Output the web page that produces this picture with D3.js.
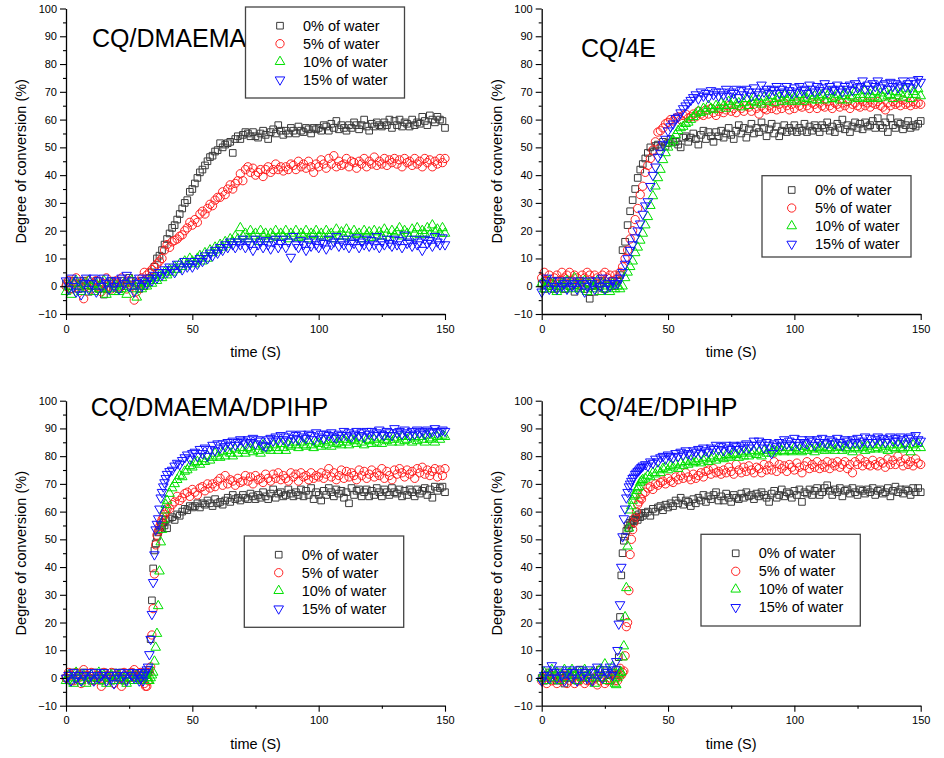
<!DOCTYPE html>
<html><head><meta charset="utf-8">
<script src="https://cdn.jsdelivr.net/npm/d3@7"></script>
<style>body{margin:0;background:#fff}svg{display:block}text{font-family:"Liberation Sans",Arial,Helvetica,sans-serif}</style>
</head><body><svg id="c" width="944" height="758"></svg>
<script>
// ---------------- DATA ----------------
const seriesLabels = ["0% of water","5% of water","10% of water","15% of water"];
const panelTitles = ["CQ/DMAEMA","CQ/4E","CQ/DMAEMA/DPIHP","CQ/4E/DPIHP"];
const xTicks = [0,50,100,150];
const xMinorTicks = [25,75,125];
const yTicks = [-10,0,10,20,30,40,50,60,70,80,90,100];
const yMinorTicks = [-5,5,15,25,35,45,55,65,75,85,95];
const xLabel = "time (S)";
const yLabel = "Degree of conversion (%)";

// sampling times (s) for the two upper panels
const time1 = [0,1,2,3,4,5,6,7,8,9,10,11,12,13,14,15,16,17,18,19,20,21,22,23,24,25,26,27,28,29,
30,31,32,33,34,35,36,37,38,39,40,41,42,43,44,45,46,47,48,49,50,51,52,53,54,55,56,57,58,59,
60,61,62,63,64,65,66,67,68,69,70,71,72,73,74,75,76,77,78,79,80,81,82,83,84,85,86,87,88,89,
90,91,92,93,94,95,96,97,98,99,100,101,102,103,104,105,106,107,108,109,110,111,112,113,114,115,116,117,118,119,
120,121,122,123,124,125,126,127,128,129,130,131,132,133,134,135,136,137,138,139,140,141,142,143,144,145,146,147,148,149,150];
// sampling times (s) for the two lower panels (denser around the fast rise)
const time2 = [0,1,2,3,4,5,6,7,8,9,10,11,12,13,14,15,16,17,18,19,20,21,22,23,24,25,26,27,28,29,
29.5,30,30.5,31,31.5,32,32.5,33,33.5,34,34.5,35,35.5,36,36.5,37,37.5,38,38.5,39,39.5,40,
41,42,43,44,45,46,47,48,49,50,51,52,53,54,55,56,57,58,59,60,61,62,63,64,65,66,67,68,69,70,
71,72,73,74,75,76,77,78,79,80,81,82,83,84,85,86,87,88,89,90,91,92,93,94,95,96,97,98,99,100,
101,102,103,104,105,106,107,108,109,110,111,112,113,114,115,116,117,118,119,120,121,122,123,124,125,126,127,128,129,130,
131,132,133,134,135,136,137,138,139,140,141,142,143,144,145,146,147,148,149,150];

// CQ/DMAEMA
const dmaema_0 = [1,0,-1,2,1,-1,0,2,1,-2, 0,1,2,-1,0,-3,-1,1,2,0, 1,-1,2,0,1,3,2,0,1,-1,
2,0,1,3,5,7,10,11,13,15, 17,19,21,22,24,26,28,30,31,34, 35,37,39,41,42,43.5,45,46.5,47,48.5,
49,51.5,50,51,51.5,52,48,53,54,53, 54.5,55.5,55,54,55.5,54,53.5,55,56,54.5, 53,55.5,56.5,55,58,56,54.5,56,55,57,
56,55,57.5,56,55.5,57,56.5,55,57,56.5, 57,56,58,57.5,56,58.5,57,59.5,56.5,58, 57,56,58,57,59,58,56.5,58,60,57.5,
56,58.5,57.5,59,58,57.5,59,58,60,57, 59.5,58,60,57.5,59,58.5,57.5,60,58,59, 58.5,61,59.5,58,61.5,60,59,61,60,59.5, 57];
const dmaema_5 = [0,2,-1,1,3,0,1,-4.5,0,2, -1,1,2,0,-2,1,3,0,-1,1, 2,0,3,1,-1,2,0,-5,-2,1,
3,5,4,5,6,7,8,9,10,13, 15,14,16,16.5,17,18,18.5,20,21,23, 22,24,23,26,27,26,28,29.5,29,31,
32,32,34,33,35,36.5,35,37,38,40.5, 38,42,43,41,42.5,40,41,42,39.5,42, 43,41,42,44,42,43,41.5,43,42,44,
43.5,42,45,43,44,42.5,45,43,41,44, 43,45.5,44,42.5,46,44,47,43,45,43.5, 44,46,43,45,44.5,42.5,45,44,46,43,
45,44,46.5,43.5,45,44,46,43.5,45.5,44.5, 46,44,45.5,43,46,44.5,45,43.5,46,44, 45,43,46,44.5,45.5,43,45,44,46,44.5, 46];
const dmaema_10 = [-2,0,-3,1,2,0,-2,1,-1,2, 0,-2,1,-1,0,2,-3,-1,1,-2, 0,-2,-1,1,-3,0,2,-1,-4,0,
-1,1,0,2,1,3,2,4,3,5, 4,6,5,7,6,8,7,9,8,10, 9,8,10,11,9,12,10,13,12,14,
13,15,14,16,15,17,16,18,17,21, 18,19,17,20,18,19,16,20,18,19, 17,19,18,20,17.5,19,18,20,17,19,
18,20,17.5,19,18,20,17,19,18.5,20, 18,19,17.5,20,18.5,19,17,20.5,18,19.5, 18,20.5,19,17.5,20,18.5,19,17,20,18.5,
19.5,17.5,20,18,19.5,18,20.5,19,17.5,20, 18.5,19.5,21,18,20,19,17.5,20.5,19,21, 18.5,20,19,21,18.5,22,19.5,20.5,19,21, 19];
const dmaema_15 = [2,-1,3,0,-2,2,-3,1,3,-1, 1,3,-2,2,0,3,1,-1,2,0, 2,-1,3,1,4,0,2,-2,1,3,
0,2,1,3,2,4,3,5,4,6, 5,7,6,5,8,7,6,9,7,8, 7,9,8,10,9,11,10,12,11,13,
12,14,13,15,14,16,15,14,16,15, 17,14,16,15,13,17,15,16,14,16.5, 15,13.5,16,17,14,15.5,17,14,16,10.5,
18,15,14,16.5,15,13,16,14.5,17,15, 14,16,15.5,13.5,17,15,16,18,14.5,16, 15,17,14,16,15.5,17.5,14,16,15,17,
14.5,16.5,15,18,14,16,15,17,15.5,14.5, 17,15,16.5,14,18.5,15.5,16,14.5,17,15, 16,13,17,15.5,16.5,14.5,18,16,15,17.5, 15];

// CQ/4E
const e4_0 = [1,-1,2,0,1,-1,2,0,1,-1, 2,0,1,-2,1,2,0,-1,1,-4.5, 0,-2,1,0,2,-1,1,0,2,0,
2,4,13,16,22,27,31,35,39,42, 44,46,48,50,48.5,50.5,51,50,52,50.5, 51.5,53,52,52,51,50,53.5,54,52,53.5,
55,53,51,54.5,56,53,55.5,54,52,55.5, 54,56,53.5,55,57,54.5,53,56,58,55, 57,53.5,56.5,58.5,55,57,55.5,59,57,54,
56.5,58.5,55,57.5,54,56,58,55.5,57,56, 58,55.5,57,56,58.5,55.5,57.5,56,58,57, 55.5,58,57,59,56,57.5,55.5,58.5,57,60,
56.5,58,55.5,57.5,59,57,58.5,56.5,59,57.5, 58,59.5,57,60.5,58,57,59,55.5,60.5,58, 57,59,58.5,56.5,58,59.5,57,58,57.5,58.5, 59.5];
const e4_5 = [3,5,2,4,1,3,4,2,5,3, 4,5,2,4,3,1,4,3,5,4, 2,4,3,1,4,5,3,4,2,4,
3,5,7,10,13,17,20,24,28,33, 36,41,43.5,46,49,52,55.5,56,57,58.5, 59,60,59.5,60.5,61,60,61.5,62,60.5,61,
62,61,63,62,61.5,63.5,62,64,62.5,61.5, 63,64,62.5,63.5,65,63,64,62.5,65,64, 63,65,64.5,63,65.5,64,62,65,64,63.5,
65,64,66,63.5,65.5,64,66,65,63.5,65.5, 64,66,65,64.5,66.5,65,64,66,65.5,64, 66,65,64.5,66.5,65,64,66,65.5,64.5,66,
65,66.5,64,65.5,66,65,64.5,66.5,65,66, 64.5,66,65.5,66.5,65,64.5,63.5,66,65,66.5, 65.5,66,65,67,65.5,66,65,66.5,65.5,66, 65.5];
const e4_10 = [1,-1,0,2,-1,1,-2,0,1,-1, 2,0,-1,3,1,-1,0,2,-2,1, -1,0,2,-2,1,-1,0,-2,1,-1,
0,-1,0,3,5,7,9,12,14,16.5, 19,22,25,29,32.5,36,39,42,45.5,48, 50,51.5,52.5,54.5,56,57,57.5,58.5,59,60,
61,62,63,62.5,64,63,65,64,63.5,65, 64.5,66,65,64,66.5,65,67,65.5,66,64.5, 66,67.5,65,66.5,68,66,67,65.5,68,66.5,
67,68.5,66,67.5,68,66.5,69,67,68,66.5, 68,67,69,66.5,68,67.5,69.5,67,68.5,67, 68,69,67,68.5,70,67.5,68,69,67,68.5,
69.5,67,68.5,68,70,67.5,69,68,70.5,67.5, 69,68,70,67.5,69.5,68,70.5,68.5,69,67.5, 70,68.5,69.5,68,71,69,67.5,70,69,71, 68.5];
const e4_15 = [-2,1,3,-1,2,0,-1,2,0,1, -1,2,0,1,-1,2,1,-2,0,2, 1,-1,2,0,3,-1,1,0,2,1,
1,3,5,8,10,13,15,17.5,20,22.5, 26,29,30.5,36,40,43,46.5,48,51,53, 56,57.5,58.5,60.5,61,62.5,64,65,66,67,
68,69,67.5,70,68.5,69.5,68,70.5,69,70, 68.5,70,69,71,68.5,70,69.5,71,68,70.5, 69,71,70,68.5,71.5,70,69,72.5,70,71,
69.5,71,70.5,72,69.5,71,70,72,70.5,69.5, 71.5,70,72,70.5,71,69.5,72.5,71,70,72, 70.5,71.5,73,70,72,71,70.5,72.5,71,70,
72,71,72.5,70.5,73,71.5,72,74,71,72.5, 71,73,72,74,71.5,72.5,73,71,73.5,72, 73,71.5,72.5,74,72,73,71.5,74,73,74.5, 73.5];

// CQ/DMAEMA/DPIHP
const dmaemaD_0 = [0,1,-1,2,0,1,-1,2,1,0, -1,2,0,1,-1,2,0,1,-1,2, 1,0,2,-1,1,0,2,1,0,1,
0,2,1,0,2,1,2,3,14,28,39.5,46,48.5,51,52.5,53.5,55,54.5,56,55,57,54,
57.5,58,57,59,58.5,60,61,60.5,62,61.5, 62,63,61.5,63,62.5,64,63,62,64.5,63, 63.5,62.5,64,65,63.5,66,64.5,65,64,66,
65,64.5,66.5,65.5,64.5,66,65,67,65.5,64.5, 66.5,68,65,66.5,67,65.5,66,68,66.5,65.5, 67,66,68,65.5,67.5,66,68.5,64.5,67,66,
64,67.5,66,68.5,67,65.5,68,66.5,67.5,65, 67,63,68.5,66,67.5,68,65.5,67,68,65.5, 67.5,66,68.5,67,65.5,68,67,66,68.5,67,
66.5,68,65.5,67.5,66,68,67,65.5,68,66.5, 67.5,68.5,66,68,65,69,67.5,68.5,69,67];
const dmaemaD_5 = [0,2,1,-1,2,0,-2,3,1,0, 2,-1,1,0,-3,2,1,0,2,-2, 1,0,-3,2,1,0,2,3,1,0,
2,1,0,-2,-3,-3,-1,2,4,15.5,25,37.5,48,51.5,53,54.5,56,57,58,59,60,61,
61,62.5,63.5,65.5,64,65,66.5,67,65.5,68, 67,66,68.5,69,67.5,70,68.5,70,69,71, 72,69.5,73,70,71.5,71,69.5,72,70.5,71,
73,71,72.5,70,73,71.5,72,70.5,73.5,72, 71,73.5,72,74,71.5,73,72,71,74,72.5, 73.5,71,74,72.5,73,71.5,74,72,73,72.5,
74,72,73.5,75.5,72.5,74,71.5,73,75,72, 74.5,72.5,74,73,71.5,75,73,74.5,72,73.5, 75,72.5,74,73,75.5,72,74.5,73,71.5,75,
73.5,75.5,74,72.5,75,73.5,74.5,72,75.5,74, 76,73.5,75,73,74.5,75.5,72.5,75,73,75.5];
const dmaemaD_10 = [-1,1,0,-2,2,0,-1,1,-2,0, 1,-1,0,2,-1,1,-2,0,1,-1, 0,1,-1,0,-2,1,0,-1,1,0,
-1,1,0,-1,1,0,-1,-1,0,1,2,6,11,16,26,38.5,49,53.5,57,60.5,62.5,64,
66.5,68.5,70,71.5,73,72.5,74.5,75,76.5,76, 77.5,78,77,79,78,80,78.5,79.5,81,80, 79.5,81.5,80,82,81,80,82.5,81,83,82,
81,83,82.5,81.5,83.5,82,81,84,82.5,83, 82,84,83,82,84.5,83,82,84,83.5,85, 84,83,85,84,83.5,85.5,84,83,85,84.5,
83.5,85.5,84,85,83.5,86,84.5,85,84,86, 85,84,86,85.5,84.5,86.5,85,84,86,85.5, 84.5,86,85,86.5,84.5,86,85.5,87,85,86,
86.5,85,87,85.5,86,87,85,86.5,85.5,87, 86,85,87.5,86,86.5,85,87,86,87.5,87];
const dmaemaD_15 = [0,1,-1,2,0,1,-1,1,2,0, 1,-1,2,0,1,2,-1,1,0,-2, 1,2,0,1,-1,2,1,0,2,-1,
0,2,-1,1,2,3,4,8.5,14,23,34.5,44.5,53.5,55.5,57.5,61,65,67,69,70.5,72,73.5,
74.5,75,76.5,77.5,77,78.5,79.5,80.5,79,81, 81.5,80,82.5,81,83,80,82.5,84,82,84.5, 83,84.5,83.5,85,84,85.5,84,85,86,85.5,
84.5,86,85,86.5,84.5,86,85.5,84,83.5,86, 86.5,85.5,87,86,87.5,86,87,85.5,88,86.5, 87.5,86,88,87,86.5,88,87.5,86,88.5,87,
88,86.5,88,87.5,88.5,87,86.5,88,87.5,89, 87.5,88.5,87,88,89,87.5,88.5,87,89,88, 89,87.5,88.5,89.5,88,87.5,89,88.5,87.5,90,
88.5,89,88,89.5,88.5,87.5,89,88,89.5,88.5, 89,88,89.5,88.5,89,90,88.5,89,89.5,89];

// CQ/4E/DPIHP
const e4D_0 = [0,-1,1,2,0,1,-1,2,0,-2, 1,0,2,1,-1,3,0,2,1,-1, 2,0,1,3,0,2,1,-1,2,1,
1,3,7.5,22,37,45,49.5,51,53,55,54,56,55.5,57,56.5,57.5,58,57,59,58,59.5,58.5,
59.5,60,58.5,61,60,61.5,62,60.5,62.5,61.5, 63,62,64,63,65,62.5,64,63.5,62,64.5, 63,65,64,66,63.5,65.5,64.5,66,67,64,
65.5,64,66.5,65,63.5,66,65,64.5,66.5,65, 67,65.5,66,64.5,66.5,65.5,67,66,65,63.5, 66.5,67.5,65,66,68,65.5,67,66.5,65,67.5,
66,68,63.5,67,66.5,68,66,67.5,68.5,66, 67,68.5,69.5,67.5,66,68,67,68.5,65.5,67.5, 68,66.5,68.5,67,66,68,67.5,66.5,68,67,
68.5,66,67.5,68,66.5,67,68.5,65.5,67.5,69, 67,68,66.5,68,67.5,66,68.5,67,68.5,67];
const e4D_5 = [-1,0,-2,1,-1,0,-2,0,-1,1, -2,-1,0,-2,1,-1,0,-2,-1,0, -1,0,-2.5,-1,0,-2,-1,0,1,-1,
0,-1,1,3.5,1,2,2.5,8,18.5,20,31.5,44.5,50,53.5,56,58,60,62.5,63.5,65,64.5,66.5,
67,68.5,69,68,70,69.5,70.5,71,70,72, 71,70.5,72.5,71.5,73,72,74,72.5,71.5,73.5, 72,73,74,72.5,74.5,75,73.5,75.5,74,74.5,
73.5,75,74,76,74.5,73.5,77,75,74,76, 74.5,76.5,75,74,76,75.5,74,77,75,76.5, 75,78,74.5,77,75.5,76.5,74.5,77,76,75,
77.5,76,74,76.5,78,75.5,77,76,78,75.5, 77,76,78,75.5,77.5,76.5,78,76,77,78, 75.5,77,74,78,77,79,76.5,78,77,76.5,
78.5,77,76.5,78,77.5,76,79,77,78.5,77, 80,78,76.5,79,77,78,76.5,79,77.5,77];
const e4D_10 = [0,2,-1,1,3,0,2,-1,1,3, 0,2,3,1,-1,2,0,3,1,0, 2,-2,1,3,0,5,-1,2,4,-2,
-2.5,0,1,2,2,7.5,11.5,22,32.5,47.5,54,60.5,62,64,65.5,66,67.5,68.5,69,70.5,71,71.5,
72,73,72.5,74,73.5,75,74,75.5,76,75, 76.5,76,77,75.5,77.5,76.5,78,77,78.5,77.5, 78,79,77.5,78.5,79.5,78,79,80,78.5,79.5,
80,79,80.5,79.5,80,81,80.5,79.5,81,80, 81.5,80,81,82,80.5,81.5,80,82,81,82.5, 81,82,81.5,83,82,81.5,83,82,81.5,83,
82,82.5,81.5,83.5,82,83,82.5,81.5,83,82.5, 83.5,82,83,82.5,84,82,83,83.5,82,83, 82.5,84,81.5,83,82.5,84,83,82,83.5,82.5,
84,82.5,83,84,82.5,83.5,82,84,83,82.5, 84,83,82.5,84.5,83,81.5,84,83,84.5,83];
const e4D_15 = [-1,1,3,0,4.5,2,0,3,1,-1, 2,3,0,2,-1,3,1,2,0,3, -1,2,4,1,0,3,2,4,1,3,
6,10,19.5,26.5,40,51,57.5,61,65,67,69,70,71,72,72.5,73.5,74,74.5,75,75.5,76,76.5,
77,76.5,78,77.5,79,78,79.5,80,79,80.5, 80,79.5,81,80,81.5,80.5,82,81,80.5,82, 81.5,82.5,81,83,82,81.5,83,82.5,84,82.5,
83.5,82,84,83,82.5,84,83.5,82.5,84,83, 84.5,83,84,85.5,84,85.5,84.5,83,85,84, 81,84.5,83.5,85,84,86,84.5,85.5,84,86.5,
85,84,86,85,84.5,86,85.5,84,86,85, 86.5,85,84.5,86,85.5,84.5,86.5,85,84,86, 85.5,84.5,86,85,86.5,84.5,85.5,87,85,86.5,
85,86,87,85.5,86.5,85,86,87,85.5,86.5, 85.5,87,86,84.5,86.5,87,85.5,87.5,86,85.5];

const seriesColors = ["#3a3a3a","#ff2020","#00e000","#1010ff"];
const seriesShapes = ["square","circle","triangle","triangleDown"];

// ---------------- LAYOUT ----------------
const panels = [
  {title:panelTitles[0], time:time1, series:[dmaema_0,dmaema_5,dmaema_10,dmaema_15],
   x0:66, x1:445, yTop:8.5, yBot:314, tX:92, tY:47.3, yLabX:21, xLabY:357,
   lg:{x:245.5,y:7,w:159,h:91,mx:280,tx:303,ry:25.7}},
  {title:panelTitles[1], time:time1, series:[e4_0,e4_5,e4_10,e4_15],
   x0:541.7, x1:920.7, yTop:8.5, yBot:314, tX:581, tY:57.3, yLabX:497, xLabY:357,
   lg:{x:762,y:175.7,w:149,h:81.3,mx:791.7,tx:815,ry:190}},
  {title:panelTitles[2], time:time2, series:[dmaemaD_0,dmaemaD_5,dmaemaD_10,dmaemaD_15],
   x0:66, x1:445, yTop:400.7, yBot:705.7, tX:90.7, tY:415.7, yLabX:21, xLabY:749,
   lg:{x:244.3,y:536,w:159.4,h:91.3,mx:278.7,tx:301.7,ry:554.7}},
  {title:panelTitles[3], time:time2, series:[e4D_0,e4D_5,e4D_10,e4D_15],
   x0:541.7, x1:920.7, yTop:400.7, yBot:705.7, tX:579, tY:415.7, yLabX:497, xLabY:749,
   lg:{x:701,y:534.3,w:159.3,h:91.7,mx:735.7,tx:758.7,ry:553.3}}
];

const svg = d3.select("#c");
const symTypes = {square:d3.symbolSquare, circle:d3.symbolCircle, triangle:d3.symbolTriangle, triangleDown:d3.symbolTriangle};
const symSizes = {square:44, circle:54, triangle:40, triangleDown:40};
function shapePath(name){ return d3.symbol().type(symTypes[name]).size(symSizes[name])(); }
function shapeRot(name){ return name==="triangleDown" ? " rotate(180)" : ""; }

panels.forEach(p => {
  const g = svg.append("g");
  const x = d3.scaleLinear().domain([0,150]).range([p.x0,p.x1]);
  const y = d3.scaleLinear().domain([-10,100]).range([p.yBot,p.yTop]);

  // series markers
  p.series.forEach((vals,si) => {
    const pts = d3.zip(p.time, vals);
    const shp = seriesShapes[si];
    const d = shapePath(shp);
    g.append("g").selectAll("path").data(pts).join("path")
      .attr("d", d)
      .attr("transform", q => `translate(${x(q[0])},${y(q[1])})${shapeRot(shp)}`)
      .attr("fill","none").attr("stroke",seriesColors[si]).attr("stroke-width",1);
  });

  // title
  g.append("text").attr("x",p.tX).attr("y",p.tY).attr("font-size",25).attr("fill","#000").text(p.title);

  // axes
  g.append("g").attr("transform",`translate(0,${p.yBot})`)
    .call(d3.axisBottom(x).tickValues(xTicks).tickSize(6).tickSizeOuter(0).tickPadding(5).tickFormat(d3.format("d")));
  g.append("g").attr("transform",`translate(0,${p.yBot})`)
    .call(d3.axisBottom(x).tickValues(xMinorTicks).tickSize(3).tickSizeOuter(0).tickFormat(""))
    .select(".domain").remove();
  g.append("g").attr("transform",`translate(${p.x0},0)`)
    .call(d3.axisLeft(y).tickValues(yTicks).tickSize(6).tickSizeOuter(0).tickPadding(3).tickFormat(d3.format("d")));
  g.append("g").attr("transform",`translate(${p.x0},0)`)
    .call(d3.axisLeft(y).tickValues(yMinorTicks).tickSize(3).tickSizeOuter(0).tickFormat(""))
    .select(".domain").remove();
  g.selectAll(".domain").attr("stroke","#000").attr("stroke-width",1.3);
  g.selectAll(".tick line").attr("stroke","#000").attr("stroke-width",1.1);
  g.selectAll(".tick text").attr("font-size",11).attr("fill","#000")
    .attr("font-family","'Liberation Sans',Arial,sans-serif");

  // axis titles
  g.append("text").attr("x",(p.x0+p.x1)/2).attr("y",p.xLabY).attr("text-anchor","middle")
    .attr("font-size",14.5).text(xLabel);
  g.append("text").attr("transform",`translate(${p.yLabX+5},${(p.yTop+p.yBot)/2}) rotate(-90)`)
    .attr("text-anchor","middle").attr("font-size",14.5).text(yLabel);

  // legend
  const L = p.lg;
  const lg = g.append("g");
  lg.append("rect").attr("x",L.x).attr("y",L.y).attr("width",L.w).attr("height",L.h)
    .attr("fill","#fff").attr("stroke","#444").attr("stroke-width",1.3);
  seriesLabels.forEach((lab,si) => {
    const ry = L.ry + si*18;
    const shp = seriesShapes[si];
    lg.append("path").attr("d",shapePath(shp))
      .attr("transform",`translate(${L.mx},${ry})${shapeRot(shp)}`)
      .attr("fill","none").attr("stroke",seriesColors[si]).attr("stroke-width",1);
    lg.append("text").attr("x",L.tx).attr("y",ry+5).attr("font-size",14.5).attr("fill","#000").text(lab);
  });
});
</script></body></html>
